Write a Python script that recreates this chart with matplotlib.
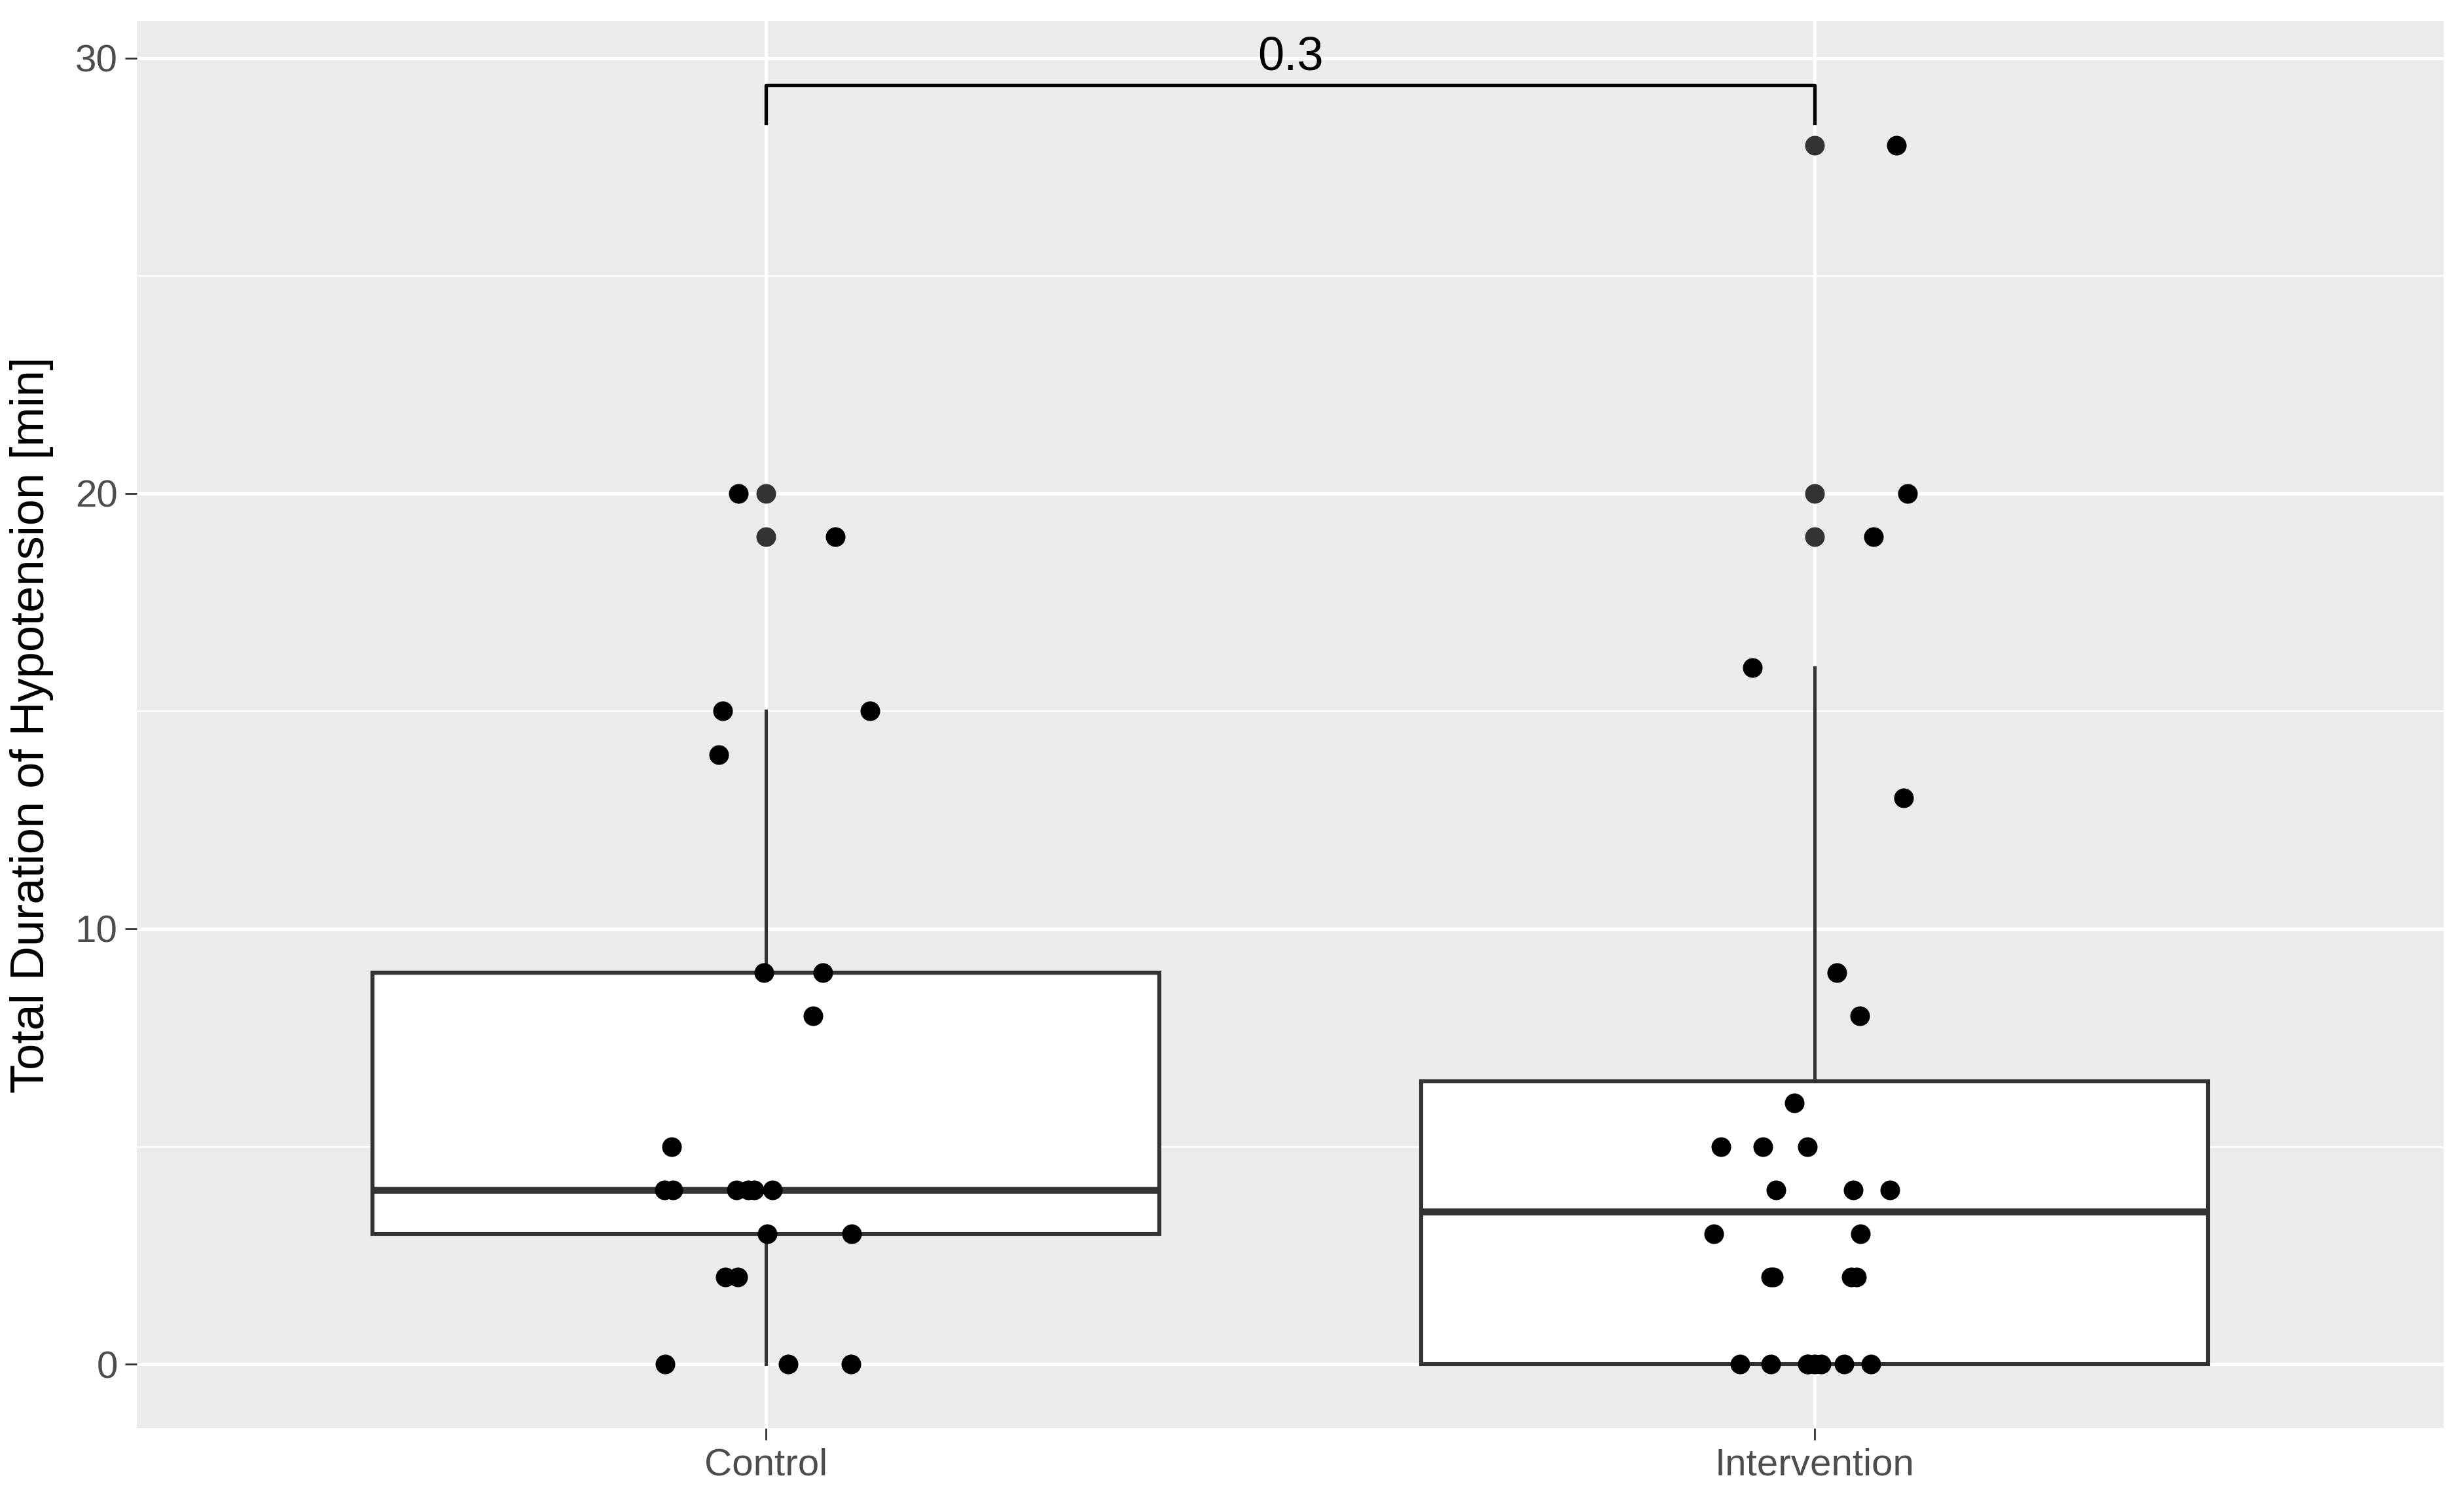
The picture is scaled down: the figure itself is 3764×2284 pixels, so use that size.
import numpy as np
import matplotlib.pyplot as plt

groups = ['Control', 'Intervention']

control_vals = [20, 19, 15, 15, 14, 9, 9, 8, 5, 4, 4, 4, 4, 4, 4, 3, 3, 2, 2, 0, 0, 0]
control_jit = [-0.026, 0.066, -0.041, 0.099, -0.045, -0.002, 0.054, 0.045, -0.090,
               -0.097, -0.089, -0.028, -0.017, -0.011, 0.006, 0.001, 0.082,
               -0.039, -0.027, -0.096, 0.021, 0.081]

interv_vals = [28, 20, 19, 16, 13, 9, 8, 6, 5, 5, 5, 4, 4, 4, 3, 3, 2, 2, 2, 2,
               0, 0, 0, 0, 0, 0, 0, 0]
interv_jit = [0.078, 0.089, 0.056, -0.059, 0.085, 0.021, 0.043, -0.019,
              -0.089, -0.049, -0.007, -0.037, 0.037, 0.072, -0.096, 0.044,
              -0.042, -0.039, 0.035, 0.040,
              -0.071, -0.042, -0.007, -0.006, 0.000, 0.006, 0.028, 0.054]

p_label = '0.3'

plt.rcParams['font.family'] = ['Liberation Sans', 'DejaVu Sans']

fig = plt.figure(figsize=(3764 / 200, 2284 / 200), dpi=200)
ax = fig.add_axes([209 / 3764, 1 - 2182 / 2284, (3733 - 209) / 3764, (2182 - 32) / 2284])
ax.set_facecolor('#EBEBEB')

# boxplots (ggplot style: white fill, no caps, outliers in grey20)
bp = ax.boxplot([control_vals, interv_vals], positions=[1, 2], widths=0.75,
                patch_artist=True, whis=1.5, showcaps=False,
                boxprops=dict(facecolor='white', edgecolor='#333333', linewidth=2.2),
                medianprops=dict(color='#333333', linewidth=3.8, solid_capstyle='butt'),
                whiskerprops=dict(color='#333333', linewidth=1.8),
                flierprops=dict(marker='o', markerfacecolor='#333333', markeredgecolor='none',
                                markersize=10.8),
                zorder=2)

# jittered points
ax.scatter(1 + np.array(control_jit), control_vals, s=117, color='black', linewidths=0, zorder=3)
ax.scatter(2 + np.array(interv_jit), interv_vals, s=117, color='black', linewidths=0, zorder=3)

# significance bracket
ax.plot([1, 1, 2, 2], [28.5, 29.37, 29.37, 28.5], color='black', linewidth=1.9, zorder=4)
ax.text(1.5, 29.5, p_label, ha='center', va='bottom', fontsize=26, color='black')

ax.set_xlim(0.4, 2.6)
ax.set_ylim(-1.47, 30.85)
ax.set_xticks([1, 2])
ax.set_xticklabels(groups)
ax.set_yticks([0, 10, 20, 30])
ax.set_yticks([5, 15, 25], minor=True)
ax.grid(which='major', color='white', linewidth=1.8, zorder=0)
ax.grid(which='minor', axis='y', color='white', linewidth=0.9, zorder=0)
ax.set_axisbelow(True)
ax.tick_params(which='major', length=6.5, width=1.0, color='#333333',
               labelsize=21, labelcolor='#4D4D4D', pad=4)
ax.tick_params(which='minor', length=0)
for s in ax.spines.values():
    s.set_visible(False)

ax.set_ylabel('Total Duration of Hypotension [min]', fontsize=26, color='black', labelpad=12)

fig.savefig('out.png', dpi=200)
